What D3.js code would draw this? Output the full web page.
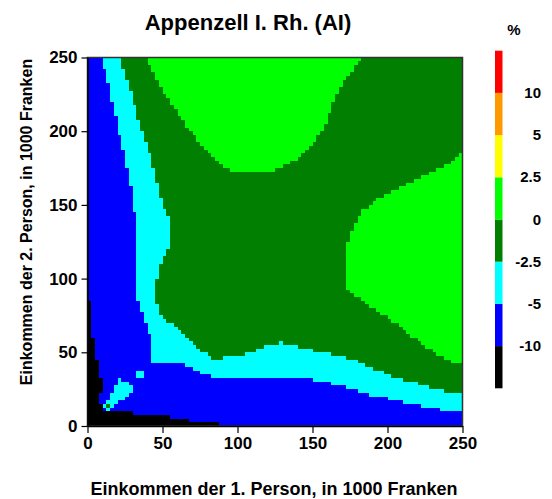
<!DOCTYPE html>
<html><head><meta charset="utf-8">
<script src="https://cdn.jsdelivr.net/npm/d3@7"></script>
<style>
html,body{margin:0;padding:0;background:#fff;}
svg text{font-family:"Liberation Sans",Arial,sans-serif;font-weight:bold;fill:#000;}
</style></head>
<body><svg id="chart" width="552" height="499"></svg>
<script>
// ---- data ----
const title = "Appenzell I. Rh. (AI)";
const xLabel = "Einkommen der 1. Person, in 1000 Franken";
const yLabel = "Einkommen der 2. Person, in 1000 Franken";
const xTicks = [0, 50, 100, 150, 200, 250];
const yTicks = [0, 50, 100, 150, 200, 250];
// colour classes, bottom (lowest) to top
const classColors = ["#000000", "#0000ff", "#00ffff", "#007f00", "#00ff00", "#ffff00", "#ff9900", "#ff0000"];
const legendLabels = ["-10", "-5", "-2.5", "0", "2.5", "5", "10"];
// contour polygons (income of person 1, income of person 2), in 1000 Franken
const contourMinus5 = [[10,250],[13,235],[16,221],[20,204],[24,187],[27,170],[30.5,153],[32,135],[32,119],[32.5,100],[33,86],[35,81],[38.3,72],[41.7,60.6],[41.7,41.5],[55,41.5],[55.5,43.6],[59,43.6],[59,41.4],[65,41.4],[65,39.1],[70.6,39.1],[70.6,36.8],[76,36.8],[76,34.6],[81.7,34.6],[81.7,33],[90.6,32.4],[100,31.7],[148,31.7],[155,30],[168,28],[172.8,25.6],[180.6,23.3],[188.3,21],[196,19.5],[203.9,17.6],[226.1,13.1],[243.9,9.7],[250,9],[251,9],[251,251],[10,251]];
const contourMinus2_5 = [[22,251],[22,250],[26,235],[30.5,221],[35,204],[40.5,187],[45,170],[49.4,153],[54.5,141],[55,126],[54,119.5],[48.3,110.4],[46.1,99.1],[45.7,83.3],[48.3,76.4],[55,69.7],[61.7,65.1],[68.3,58.3],[77.2,50.4],[83.9,45.9],[99.1,46.7],[110.6,50.4],[119.4,55],[128.3,56.4],[137.2,54.3],[148.3,51.6],[163.9,48.2],[177,44.8],[181.7,42.5],[187.2,40.2],[192.8,38],[198.3,35.7],[203.9,33.5],[226.1,26.7],[242.8,22.2],[250,21.5],[251,21.5],[251,251]];
const contourZeroUpper = [[39.5,251],[39.5,250],[43,242],[47.2,232.5],[54,221],[61.7,209.8],[70,198],[78.3,187],[85,181],[91.7,174.8],[96,173.5],[108,173],[112,171.9],[122,172],[128.3,174.8],[139.4,180.5],[148.3,189.5],[157.2,200.8],[161.7,214.4],[167.2,228],[175,239.3],[182.8,250],[182.8,251]];
const contourZeroRight = [[251,186.1],[250,186.1],[241.7,178.2],[226.1,170.3],[210.5,162.4],[195,155.6],[183.9,146.5],[178.3,137.5],[173.9,126.2],[173.2,117.2],[171.7,114],[171.7,92.3],[175,91.1],[188.3,81],[206.1,69.7],[219.4,58.3],[235,47],[248.3,41.4],[250,41],[251,41]];
const contourMinus10 = [[-1,88],[0,88],[2,84],[2.5,70],[4,58],[5,50],[7,44],[8,35],[10,30],[10,22],[6.5,20],[6.5,15],[10,14],[11,10],[25,9.5],[25,11],[30,11],[30,8.5],[55,7.3],[55,5.2],[68,5],[68,2.9],[82,2.9],[82,1.4],[88,1.4],[88,-1],[-1,-1]];
const islandMinus5 = [[11,11.5],[15,11],[22,17],[31,24],[29,28],[26,31],[21,31.5],[17,25],[14,19],[11,14]];
const squareMinus5 = [[33.5,33.5],[37.5,33.5],[37.5,37.5],[33.5,37.5]];
const dotMinus2_5 = [[12.6,12.6],[15,12.6],[15,15],[12.6,15]];

// ---- layout ----
const svg = d3.select("#chart");
const x = d3.scaleLinear().domain([0, 250]).range([87.5, 462.5]);
const y = d3.scaleLinear().domain([0, 250]).range([426, 57.5]);

function classify(px, py) {
  let c = 1;
  if (d3.polygonContains(contourMinus5, [px, py])) c = 2;
  if (d3.polygonContains(contourMinus2_5, [px, py])) c = 3;
  if (d3.polygonContains(contourZeroUpper, [px, py]) || d3.polygonContains(contourZeroRight, [px, py])) c = 4;
  if (d3.polygonContains(contourMinus10, [px, py])) c = 0;
  if (d3.polygonContains(islandMinus5, [px, py]) || d3.polygonContains(squareMinus5, [px, py])) c = 2;
  if (d3.polygonContains(dotMinus2_5, [px, py])) c = 3;
  return c;
}

const step = 2.5, n = 100;
const runs = [];
for (let j = 0; j < n; j++) {
  const cy = (j + 0.5) * step;
  let start = 0, cur = classify(0.5 * step, cy);
  for (let i = 1; i <= n; i++) {
    const c = i < n ? classify((i + 0.5) * step, cy) : -1;
    if (c !== cur) {
      runs.push({ i0: start, i1: i, j: j, c: cur });
      start = i; cur = c;
    }
  }
}

const g = svg.append("g").attr("shape-rendering", "crispEdges");
g.selectAll("rect").data(runs).join("rect")
  .attr("x", d => Math.round(x(d.i0 * step)))
  .attr("width", d => Math.round(x(d.i1 * step)) - Math.round(x(d.i0 * step)))
  .attr("y", d => Math.round(y((d.j + 1) * step)))
  .attr("height", d => Math.round(y(d.j * step)) - Math.round(y((d.j + 1) * step)))
  .attr("fill", d => classColors[d.c]);

// frame
svg.append("rect").attr("x", x(0)).attr("y", y(250)).attr("width", x(250) - x(0)).attr("height", y(0) - y(250))
  .attr("fill", "none").attr("stroke", "#333").attr("stroke-width", 1.5);

// axes
const fs = "17px";
const ax = svg.append("g").attr("transform", `translate(0,${y(0)})`)
  .call(d3.axisBottom(x).tickValues(xTicks).tickSize(7).tickSizeOuter(0).tickPadding(4));
ax.selectAll("text").style("font-size", fs).style("font-family", '"Liberation Sans",Arial,sans-serif').style("font-weight", "bold").attr("fill", "#000");
const ay = svg.append("g").attr("transform", `translate(${x(0)},0)`)
  .call(d3.axisLeft(y).tickValues(yTicks).tickSize(6).tickSizeOuter(0).tickPadding(4));
ay.selectAll("text").style("font-size", fs).style("font-family", '"Liberation Sans",Arial,sans-serif').style("font-weight", "bold").attr("fill", "#000");
svg.selectAll(".domain").attr("stroke", "#000").attr("stroke-width", 1.5);
svg.selectAll(".tick line").attr("stroke", "#000").attr("stroke-width", 1.2);

// titles
svg.append("text").attr("x", 248).attr("y", 30).attr("text-anchor", "middle").style("font-size", "22px").text(title);
svg.append("text").attr("x", 274).attr("y", 495).attr("text-anchor", "middle").style("font-size", "18px").text(xLabel);
svg.append("text").attr("transform", "translate(32,222) rotate(-90)").attr("text-anchor", "middle").style("font-size", "16px").text(yLabel);

// colour legend
const ly = d3.scaleLinear().domain([0, 8]).range([388.3, 50.7]);
svg.append("g").selectAll("rect").data(classColors).join("rect")
  .attr("x", 495).attr("width", 7.5)
  .attr("y", (d, i) => ly(i + 1)).attr("height", (d, i) => ly(i) - ly(i + 1))
  .attr("fill", d => d);
svg.append("g").selectAll("text").data(legendLabels).join("text")
  .attr("x", 541).attr("y", (d, i) => ly(i + 1) + 5)
  .attr("text-anchor", "end").style("font-size", "15px").text(d => d);
svg.append("text").attr("x", 514).attr("y", 35).attr("text-anchor", "middle").style("font-size", "15px").text("%");
</script></body></html>
